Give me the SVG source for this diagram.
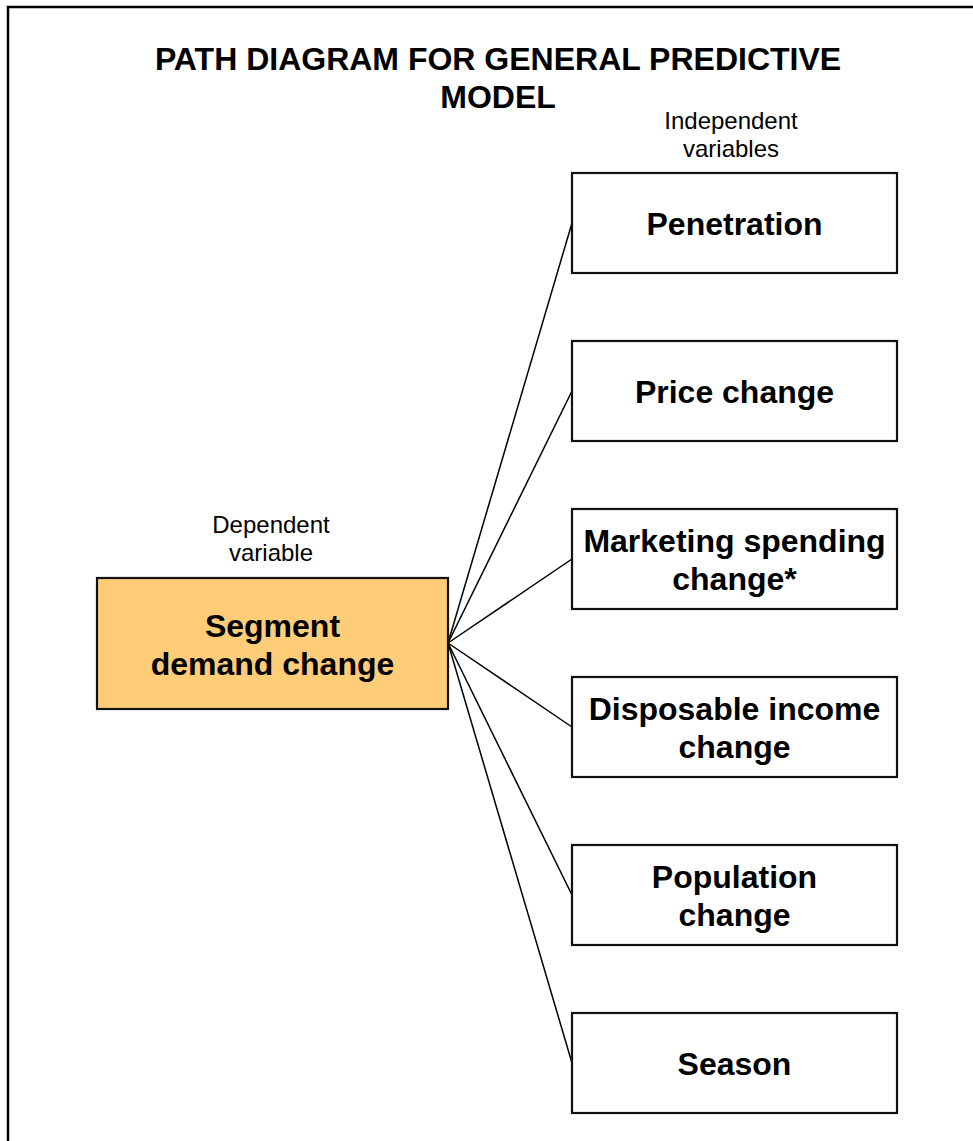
<svg xmlns="http://www.w3.org/2000/svg" width="973" height="1141" viewBox="0 0 973 1141">
  <style>
    .frame { fill: none; stroke: #000; stroke-width: 2.5; }
    .box { fill: #fff; stroke: #111; stroke-width: 2.2; }
    .dep { fill: #FFCC77; stroke: #111; stroke-width: 2.2; }
    .edge { stroke: #000; stroke-width: 1.5; fill: none; }
    .title { font-family: "Liberation Sans", Arial, sans-serif; font-weight: bold; font-size: 32px; text-anchor: middle; fill: #000; }
    .lbl { font-family: "Liberation Sans", Arial, sans-serif; font-weight: bold; font-size: 32px; text-anchor: middle; fill: #000; }
    .note { font-family: "Liberation Sans", Arial, sans-serif; font-size: 24px; text-anchor: middle; fill: #000; }
  </style>
  <rect width="973" height="1141" fill="#fff"/>
  <!-- page frame, open on the right and bottom -->
  <path class="frame" d="M8,1141 V7 H973"/>

  <text class="title" x="498" y="70">PATH DIAGRAM FOR GENERAL PREDICTIVE</text>
  <text class="title" x="498" y="108">MODEL</text>

  <text class="note" x="731" y="129">Independent</text>
  <text class="note" x="731" y="157">variables</text>
  <text class="note" x="271" y="533">Dependent</text>
  <text class="note" x="271" y="561">variable</text>

  <g id="connectors">
    <line class="edge" x1="448" y1="643" x2="572" y2="223"/>
    <line class="edge" x1="448" y1="643" x2="572" y2="391"/>
    <line class="edge" x1="448" y1="643" x2="572" y2="559"/>
    <line class="edge" x1="448" y1="643" x2="572" y2="727"/>
    <line class="edge" x1="448" y1="643" x2="572" y2="895"/>
    <line class="edge" x1="448" y1="643" x2="572" y2="1063"/>
  </g>

  <g id="segment-demand">
    <rect class="dep" x="97" y="578" width="351" height="131"/>
    <text class="lbl" x="272.5" y="637">Segment</text>
    <text class="lbl" x="272.5" y="675">demand change</text>
  </g>

  <g id="penetration">
    <rect class="box" x="572" y="173" width="325" height="100"/>
    <text class="lbl" x="734.5" y="235">Penetration</text>
  </g>

  <g id="price-change">
    <rect class="box" x="572" y="341" width="325" height="100"/>
    <text class="lbl" x="734.5" y="403">Price change</text>
  </g>

  <g id="marketing-spending">
    <rect class="box" x="572" y="509" width="325" height="100"/>
    <text class="lbl" x="734.5" y="552">Marketing spending</text>
    <text class="lbl" x="734.5" y="590">change*</text>
  </g>

  <g id="disposable-income">
    <rect class="box" x="572" y="677" width="325" height="100"/>
    <text class="lbl" x="734.5" y="720">Disposable income</text>
    <text class="lbl" x="734.5" y="758">change</text>
  </g>

  <g id="population-change">
    <rect class="box" x="572" y="845" width="325" height="100"/>
    <text class="lbl" x="734.5" y="888">Population</text>
    <text class="lbl" x="734.5" y="926">change</text>
  </g>

  <g id="season">
    <rect class="box" x="572" y="1013" width="325" height="100"/>
    <text class="lbl" x="734.5" y="1075">Season</text>
  </g>
</svg>
